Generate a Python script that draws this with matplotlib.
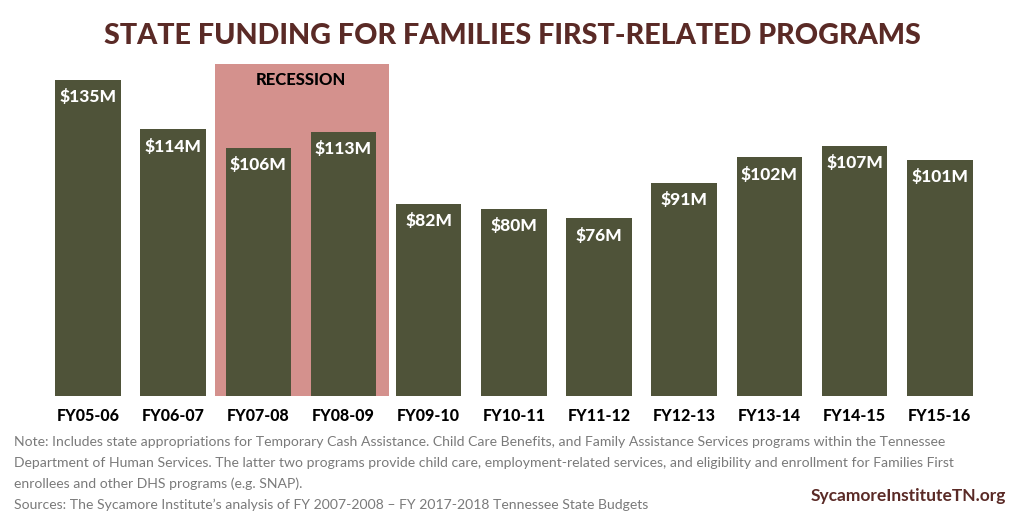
import matplotlib
matplotlib.use("Agg")
import matplotlib.pyplot as plt
from matplotlib.patches import Rectangle

# data ($ millions)
years = ["FY05-06", "FY06-07", "FY07-08", "FY08-09", "FY09-10", "FY10-11",
         "FY11-12", "FY12-13", "FY13-14", "FY14-15", "FY15-16"]
funding = [135, 114, 106, 113, 82, 80, 76, 91, 102, 107, 101]
recession_years = ["FY07-08", "FY08-09"]

note_lines = [
    "Note: Includes state appropriations for Temporary Cash Assistance. Child Care Benefits, and Family Assistance Services programs within the Tennessee",
    "Department of Human Services. The latter two programs provide child care, employment-related services, and eligibility and enrollment for Families First",
    "enrollees and other DHS programs (e.g. SNAP).",
    "Sources: The Sycamore Institute\u2019s analysis of FY 2007-2008 \u2013 FY 2017-2018 Tennessee State Budgets",
]

bar_color = "#4f5339"
shade_color = "#d4918d"
maroon = "#5a2a26"

fig = plt.figure(figsize=(10.24, 5.12), dpi=100)
ax = fig.add_axes([0.0443, 0.2266, 0.915, 0.6855])

x = list(range(len(years)))
ax.bar(x, funding, width=0.77, color=bar_color, zorder=2)

# recession shading behind the bars
i0 = years.index(recession_years[0])
i1 = years.index(recession_years[-1])
ax.add_patch(Rectangle((i0 - 0.51, 0), (i1 - i0) + 1.04, 142,
                       color=shade_color, zorder=1, lw=0))
ax.text((i0 + i1) / 2, 135, "RECESSION", ha="center", va="center",
        fontsize=12, fontweight="black", family="Lato", color="black")

for xi, v in zip(x, funding):
    ax.text(xi, v - 4, "$%dM" % v, ha="center", va="top", color="white",
            fontsize=12.5, fontweight="black", family="Lato")

ax.set_xlim(-0.5, len(years) - 0.5)
ax.set_ylim(0, 150)
ax.set_xticks(x)
ax.set_xticklabels(years, fontsize=11.5, fontweight="black", family="Lato")
ax.tick_params(axis="x", length=0, pad=9)
ax.set_yticks([])
for s in ax.spines.values():
    s.set_visible(False)

fig.text(0.5, 0.93, "STATE FUNDING FOR FAMILIES FIRST-RELATED PROGRAMS",
         ha="center", va="center", fontsize=20.7, fontweight="black",
         family="Lato", color=maroon)

# footnote, one text per line
for k, line in enumerate(note_lines):
    fig.text(0.014, 0.137 - k * 0.041, line, ha="left", va="center",
             fontsize=10.1, family="Lato", fontweight="normal", color="#7a7a7a")

fig.text(0.982, 0.031, "SycamoreInstituteTN.org", ha="right", va="center",
         fontsize=12.5, fontweight="bold", family="Lato", color=maroon)

fig.savefig("out.png", dpi=100)
